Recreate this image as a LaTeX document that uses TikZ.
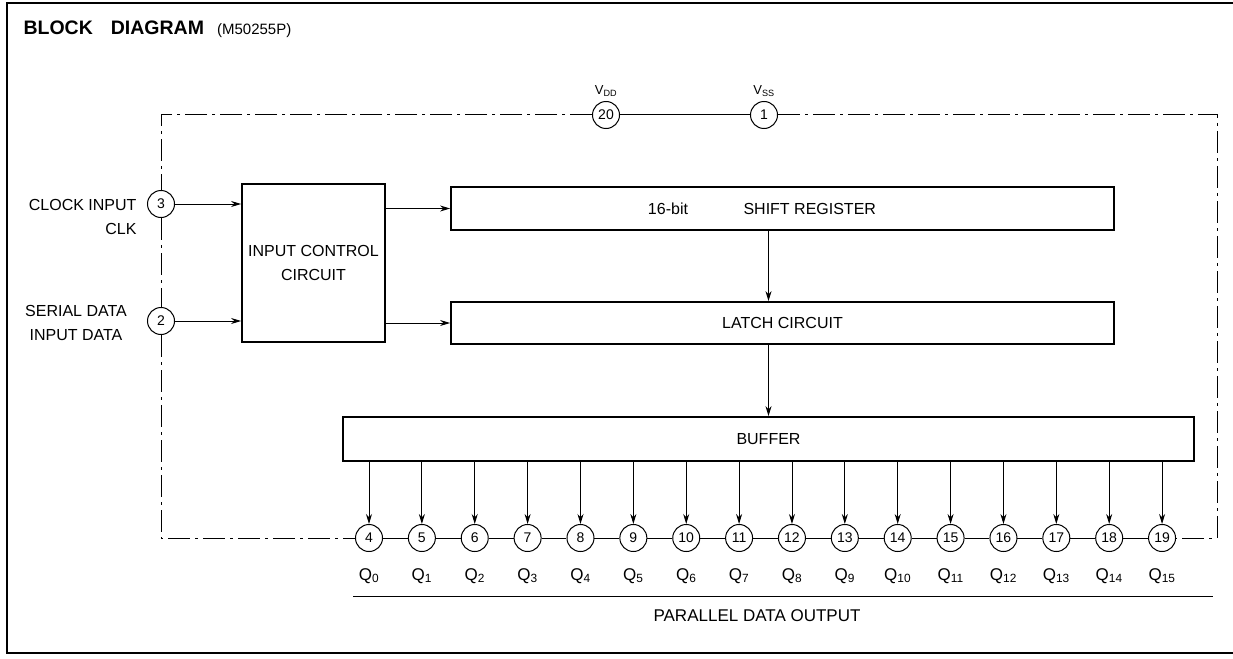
\documentclass[tikz,border=0pt]{standalone}
\usepackage{fontspec}
\setmainfont{Liberation Sans}
\usetikzlibrary{arrows.meta, positioning, calc}

\begin{document}
\begin{tikzpicture}[
    x=1pt, y=-1pt,
    >={Stealth[length=10pt,width=6pt]},
    font=\fontsize{16}{24}\selectfont,
    block/.style={rectangle, draw=black, line width=1.8pt, align=center, inner sep=0pt},
    pin/.style={circle, draw=black, line width=1pt, minimum size=27pt, inner sep=0pt, fill=white, font=\fontsize{14}{14}\selectfont},
    qlabel/.style={font=\fontsize{17}{17}\selectfont, inner sep=1pt},
    supplylabel/.style={font=\fontsize{13}{13}\selectfont, inner sep=1pt},
    sig/.style={->, line width=0.9pt},
    wire/.style={line width=1pt},
    supply/.style={line width=1pt, dash pattern=on 22pt off 5pt on 3pt off 5pt},
    frameline/.style={line width=1.8pt}
]
\useasboundingbox (0,0) rectangle (1233,658);

% outer frame and title
\draw[frameline] (1233,3) -- (7,3) -- (7,653) -- (1233,653);
\node[anchor=west, font=\bfseries\fontsize{19.5}{19.5}\selectfont] (title) at (20,28) {BLOCK\hspace{18pt}DIAGRAM};
\node[anchor=base west, font=\fontsize{15}{15}\selectfont] (partno) at ([xshift=6pt]title.base east) {(M50255P)};

% blocks
\node[block, minimum width=143pt, minimum height=158pt] (ctrl) at (313.5,263) {INPUT CONTROL\\CIRCUIT};
\node[block, minimum width=663pt, minimum height=43pt] (sreg) at (782.5,208.5) {};
\node (sregbits) at (668,208.5) {16-bit};
\node[anchor=west] (sregname) at (740,208.5) {SHIFT REGISTER};
\node[block, minimum width=663pt, minimum height=42pt] (latch) at (782.5,323) {LATCH CIRCUIT};
\node[block, minimum width=851pt, minimum height=44pt] (buffer) at (768.5,439) {BUFFER};

% input pins
\node[pin] (clk) at (161,204) {3};
\node[pin] (din) at (161,321) {2};
\node[anchor=east, align=right] (clklbl) at (140,216.5) {CLOCK INPUT\\CLK};
\node[align=center] (dinlbl) at (76,323) {SERIAL DATA\\INPUT DATA};

% supply pins
\node[pin] (vdd) at (606,115) {20};
\node[pin] (vss) at (764,115) {1};
\node[supplylabel, above=3pt of vdd] (vddlbl) {V\textsubscript{DD}};
\node[supplylabel, above=3pt of vss] (vsslbl) {V\textsubscript{SS}};

% output pins
\foreach \i in {0,...,15} {
  \pgfmathsetmacro\px{369+52.87*\i}
  \pgfmathtruncatemacro\pn{\i+4}
  \node[pin] (q\i) at (\px,538) {\pn};
  \node[qlabel] (ql\i) at (\px,576) {Q\textsubscript{\i}};
  \draw[sig] (q\i |- buffer.south) -- (q\i);
}
\foreach \i [count=\j from 1] in {0,...,14}
  \draw[wire] (q\i) -- (q\j);

% supply ring
\coordinate (cornerTL) at (clk |- vdd);
\coordinate (cornerBL) at (clk |- q0);
\coordinate (cornerTR) at (1217,115);
\coordinate (cornerBR) at (cornerTR |- q15);
\draw[supply] (vdd) -- (cornerTL) -- (clk);
\draw[supply] (clk) -- (din);
\draw[supply] (din) -- (cornerBL) -- (q0);
\draw[wire] (vdd) -- (vss);
\draw[supply] (vss) -- (cornerTR) -- (cornerBR) -- (q15);

% signal flow
\draw[sig] (clk) -- (clk -| ctrl.west);
\draw[sig] (din) -- (din -| ctrl.west);
\draw[sig] (ctrl.east |- sreg) -- (sreg.west);
\draw[sig] (ctrl.east |- latch) -- (latch.west);
\draw[sig] (sreg.south -| buffer.north) -- (latch.north -| buffer.north);
\draw[sig] (latch.south -| buffer.north) -- (buffer.north);

% output bus
\coordinate (busL) at (353,596);
\coordinate (busR) at (1213,596);
\draw[wire] (busL) -- (busR);
\node[font=\fontsize{17}{17}\selectfont] (pdo) at (757,616) {PARALLEL DATA OUTPUT};
\end{tikzpicture}
\end{document}
